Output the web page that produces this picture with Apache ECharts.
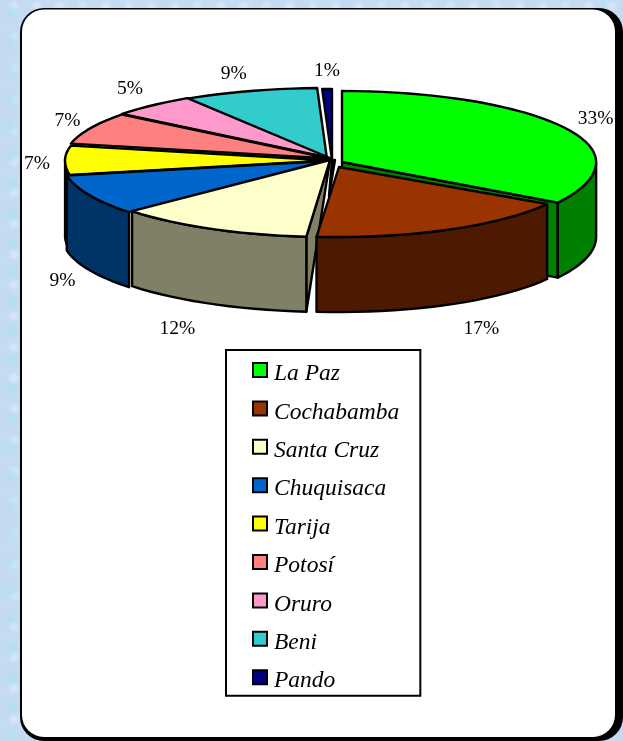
<!DOCTYPE html>
<html><head><meta charset="utf-8">
<style>
html,body{margin:0;padding:0;width:623px;height:741px;overflow:hidden;background-color:#c4dbf2;
background-image:radial-gradient(circle at 30% 40%,rgba(170,225,240,.7) 0,rgba(170,225,240,0) 9px),radial-gradient(circle at 70% 70%,rgba(215,205,245,.8) 0,rgba(215,205,245,0) 12px),radial-gradient(circle at 60% 20%,rgba(235,240,255,.6) 0,rgba(235,240,255,0) 7px);
background-size:37px 29px,53px 41px,23px 31px;}
#c{width:623px;height:741px;}
</style>
<script src="https://cdn.jsdelivr.net/npm/echarts@6/dist/echarts.min.js"></script>
</head><body><div id="c"></div>
<script>
const categories=['La Paz','Cochabamba','Santa Cruz','Chuquisaca','Tarija','Potosí','Oruro','Beni','Pando'];
const values=[33.3,17.3,12.2,8.7,6.5,7.4,5.4,8.6,0.6];

const topColors=['#00ff00','#993300','#ffffcc','#0066cc','#ffff00','#ff8080','#ff99cc','#33cccc','#000080'];
const wallColors=['#008000','#4d1900','#808066','#003366','#000000','#804040','#804d66','#1a6666','#000040'];
const paintOrder=[8,7,6,5,4,3,0,2,1];
// per-slice explosion: dx, dy, x scale, y scale
const explode=[[12,2,.985,1],[9,7,.95,.91],[0,0,1,1],[-3,1,1,1],[0,.5,1,1],[0,-1.5,1,1],[0,-2,1,1],[-3,-1,1,1],[2,0,1,1]];
// label distance factors along x and y
const labelK=[[1.19,1.15],[1.21,1.40],[1.41,1.338],[1.146,1.27],[1.106,3],[1.085,1.344],[1.11,1.37],[1.2,1.28],[.6,1.25]];

const CX=330,CY=160,RXR=258,RXL=265,RYB=71,RYF=77,DEPTH=75;
const total=values.reduce((a,b)=>a+b,0);
const rad=d=>d*Math.PI/180;
let acc=0;
const spans=values.map(v=>{const s=acc;acc+=v/total*360;return [s,acc];});
// small perspective warp of the pie angle towards the viewer
const warp=d=>d+(d<180?d:360-d)/60;
function pt(i,deg,k){
  const e=explode[i],w=rad(warp(deg)),s=Math.sin(w),c=Math.cos(w);
  return [CX+e[0]+(s>=0?RXR:RXL)*s*k*e[2],CY+e[1]-(c>=0?RYB:RYF)*c*k*e[3]];
}
function arc(i,a,b){
  const pts=[],n=Math.max(2,Math.ceil((b-a)/3));
  for(let j=0;j<=n;j++)pts.push(pt(i,a+(b-a)*j/n,1));
  return pts;
}
const stroke={stroke:'#000',lineWidth:2.4,lineJoin:'round'};
function poly(points,fill){return {type:'polygon',shape:{points},style:{fill,...stroke}};}
function renderSlice(i){
  return function(){
    const [a,b]=spans[i],kids=[];
    const apex=pt(i,a,0);
    const fa=Math.max(a,88.5),fb=Math.min(b,270);
    if(i===0){const p=pt(i,b,1);kids.push(poly([apex,p,[p[0],p[1]+DEPTH],[apex[0],apex[1]+DEPTH]],wallColors[i]));}
    if(i===2){const p=pt(i,a,1);kids.push(poly([apex,p,[p[0],p[1]+DEPTH]],wallColors[i]));}
    if(i===8){kids.push(poly([apex,[apex[0]+3,apex[1]],[apex[0]-3,apex[1]+36]],wallColors[i]));}
    if(fb>fa){
      const t=arc(i,fa,fb),low=t.map(p=>[p[0],p[1]+DEPTH]).reverse();
      kids.push(poly(t.concat(low),wallColors[i]));
    }
    kids.push(poly([apex].concat(arc(i,a,b)),topColors[i]));
    const mid=(a+b)/2,s=Math.sin(rad(mid)),c=Math.cos(rad(mid)),k=labelK[i];
    const front=c<-0.1;
    kids.push({type:'text',z2:100,style:{
      x:CX+(s>=0?RXR:RXL)*s*k[0],
      y:CY-(c>=0?RYB:RYF)*c*k[1]+(front?DEPTH:0),
      text:Math.round(values[i]/total*100)+'%',
      font:'19.5px "Liberation Serif"',fill:'#000',align:'center',verticalAlign:'middle'}});
    return {type:'group',children:kids};
  };
}
const series=categories.map((name,i)=>({
  type:'custom',name,coordinateSystem:'none',
  z:2+paintOrder.indexOf(i),
  itemStyle:{color:topColors[i],borderColor:'#000',borderWidth:2},
  data:[{value:values[i],name}],
  renderItem:renderSlice(i),silent:true
}));
const chart=echarts.init(document.getElementById('c'),null,{renderer:'canvas'});
chart.setOption({
  animation:false,backgroundColor:'transparent',
  graphic:{elements:[
    {type:'rect',z:0,shape:{x:20,y:8,width:603,height:733,r:24},style:{fill:'#000'}},
    {type:'rect',z:0,shape:{x:22,y:9.5,width:593,height:727.5,r:22},style:{fill:'#fff'}}
  ]},
  legend:{
    orient:'vertical',left:226,top:350,data:categories,icon:'rect',
    itemWidth:14,itemHeight:14,itemGap:14.9,itemStyle:{borderColor:'#000',borderWidth:2},
    padding:[12,21,3,26],backgroundColor:'#fff',borderColor:'#000',borderWidth:2,
    formatter:'{a|{name}}',
    textStyle:{color:'#000',rich:{a:{fontFamily:'Liberation Serif',fontStyle:'italic',fontSize:23.5,color:'#000',padding:[8,0,0,2]}}},
    selectedMode:false,z:20
  },
  series
});
</script></body></html>
